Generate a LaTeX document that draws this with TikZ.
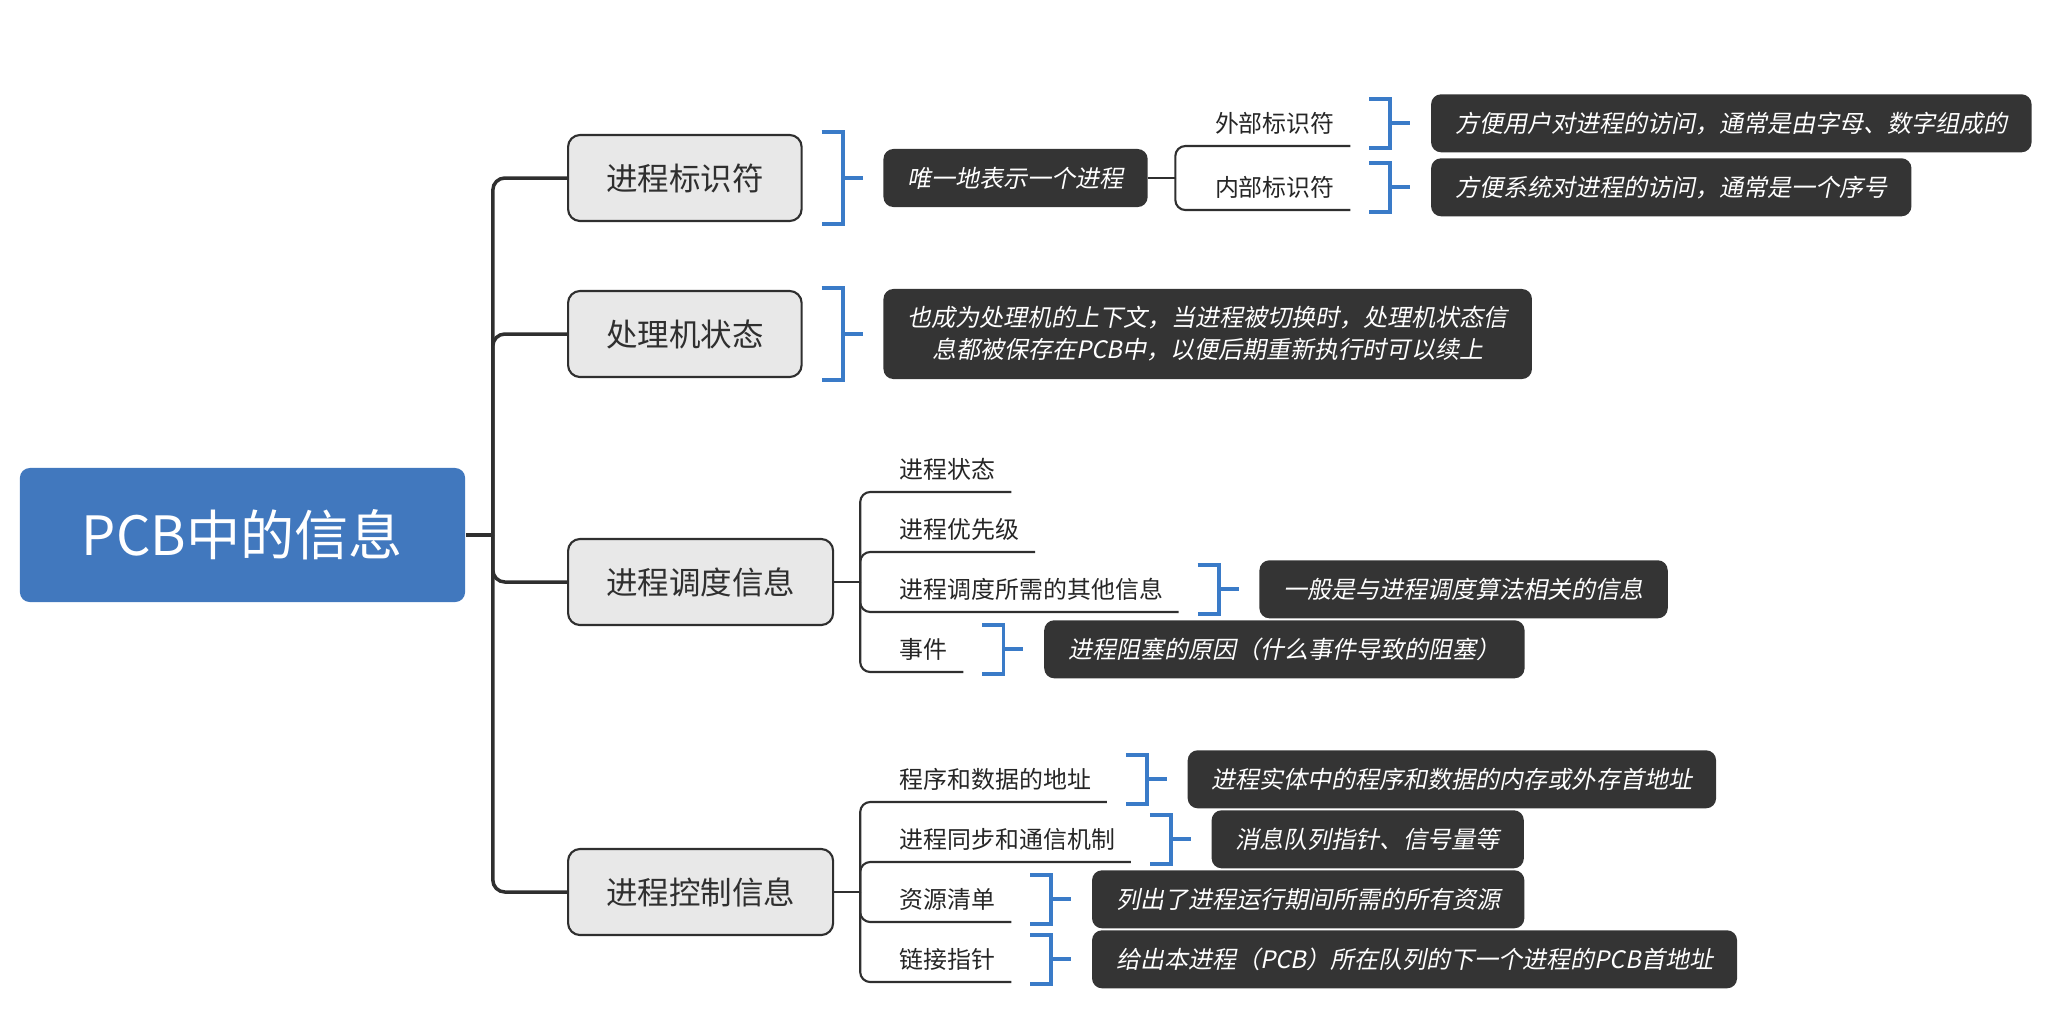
\documentclass[tikz,border=0pt]{standalone}
\usepackage{fontspec}
\setmainfont{Noto Sans CJK SC}
\newfontfamily\notefont[FakeSlant=0.2]{Noto Sans CJK SC}
\usetikzlibrary{positioning, calc}

\definecolor{rootblue}{HTML}{4178BE}
\definecolor{topicgray}{HTML}{E8E8E8}
\definecolor{linedark}{HTML}{2F2F2F}
\definecolor{notedark}{HTML}{343434}
\definecolor{bracketblue}{HTML}{3A7BC8}

\tikzset{
  rootbox/.style={fill=rootblue, text=white, rounded corners=1mm, minimum width=4.45cm, minimum height=1.34cm, font=\fontsize{15.4pt}{18pt}\selectfont},
  topic/.style={draw=linedark, line width=0.6pt, fill=topicgray, text=linedark, rounded corners=1.2mm, minimum height=0.86cm, inner xsep=3.8mm, font=\fontsize{8.96pt}{10pt}\selectfont, anchor=west},
  sub/.style={minimum height=0.44cm, inner xsep=1.5mm, inner ysep=0pt, text=black!85, font=\fontsize{6.8pt}{8pt}\selectfont, anchor=south west},
  note/.style={fill=notedark, text=white, rounded corners=1mm, minimum height=0.58cm, inner xsep=2.4mm, font=\notefont\fontsize{6.83pt}{9.1pt}\selectfont, align=center, right=8mm of #1},
  trunk/.style={draw=linedark, line width=1pt, rounded corners=1.2mm},
  twig/.style={draw=linedark, line width=0.6pt, rounded corners=1mm},
  brk/.style={draw=bracketblue, line width=1.1pt},
}

\begin{document}
\begin{tikzpicture}[x=0.01cm, y=-0.01cm]
  \useasboundingbox (0,0) rectangle (2048,1032);

  % Chủ đề gốc
  \node[rootbox] (root) at (242.5,535) {PCB中的信息};

  % Các chủ đề cấp 1
  \node[topic] (t1) at (567,178) {进程标识符};
  \node[topic] (t2) at (567,334) {处理机状态};
  \node[topic] (t3) at (567,582) {进程调度信息};
  \node[topic] (t4) at (567,892) {进程控制信息};

  % Thân chính
  \coordinate (rj) at ($(root.east)+(27,0)$);
  \draw[trunk] (root.east) -- (rj);
  \foreach \t in {t1,t2,t3,t4}
    \draw[trunk] (rj) |- (\t.west);

  % Nhánh 1: 进程标识符
  \node[note=t1] (n1) {唯一地表示一个进程};
  \coordinate (f1) at ($(n1.east)+(27,0)$);
  \draw[twig] (n1.east) -- (f1);
  \node[sub] (s11) at ($(f1|-0,146)+(24,0)$) {外部标识符};
  \node[sub] (s12) at ($(f1|-0,210)+(24,0)$) {内部标识符};
  \draw[twig] (f1) |- (s11.south east);
  \draw[twig] (f1) |- (s12.south east);
  \node[note=s11] (n11) {方便用户对进程的访问，通常是由字母、数字组成的};
  \node[note=s12] (n12) {方便系统对进程的访问，通常是一个序号};

  % Nhánh 2: 处理机状态
  \node[note=t2, minimum height=0.9cm] (n2) {也成为处理机的上下文，当进程被切换时，处理机状态信\\息都被保存在PCB中，以便后期重新执行时可以续上};

  % Nhánh 3: 进程调度信息
  \coordinate (f3) at ($(t3.east)+(26,0)$);
  \draw[twig] (t3.east) -- (f3);
  \node[sub] (s31) at ($(f3|-0,492)+(24,0)$) {进程状态};
  \node[sub] (s32) at ($(f3|-0,552)+(24,0)$) {进程优先级};
  \node[sub] (s33) at ($(f3|-0,612)+(24,0)$) {进程调度所需的其他信息};
  \node[sub] (s34) at ($(f3|-0,672)+(24,0)$) {事件};
  \foreach \s in {s31,s32,s33,s34}
    \draw[twig] (f3) |- (\s.south east);
  \node[note=s33] (n33) {一般是与进程调度算法相关的信息};
  \node[note=s34] (n34) {进程阻塞的原因（什么事件导致的阻塞）};

  % Nhánh 4: 进程控制信息
  \coordinate (f4) at ($(t4.east)+(26,0)$);
  \draw[twig] (t4.east) -- (f4);
  \node[sub] (s41) at ($(f4|-0,802)+(24,0)$) {程序和数据的地址};
  \node[sub] (s42) at ($(f4|-0,862)+(24,0)$) {进程同步和通信机制};
  \node[sub] (s43) at ($(f4|-0,922)+(24,0)$) {资源清单};
  \node[sub] (s44) at ($(f4|-0,982)+(24,0)$) {链接指针};
  \foreach \s in {s41,s42,s43,s44}
    \draw[twig] (f4) |- (\s.south east);
  \node[note=s41] (n41) {进程实体中的程序和数据的内存或外存首地址};
  \node[note=s42] (n42) {消息队列指针、信号量等};
  \node[note=s43] (n43) {列出了进程运行期间所需的所有资源};
  \node[note=s44] (n44) {给出本进程（PCB）所在队列的下一个进程的PCB首地址};

  % Ngoặc xanh
  \foreach \n in {t1,t2,s11,s12,s33,s34,s41,s42,s43,s44} {
    \draw[brk] ($(\n.north east)+(19,-2)$) -- ++(21,0) -- ($(\n.south east)+(40,2)$) -- ++(-21,0);
    \draw[brk] ($(\n.east)+(40,0)$) -- ++(20,0);
  }
\end{tikzpicture}
\end{document}
